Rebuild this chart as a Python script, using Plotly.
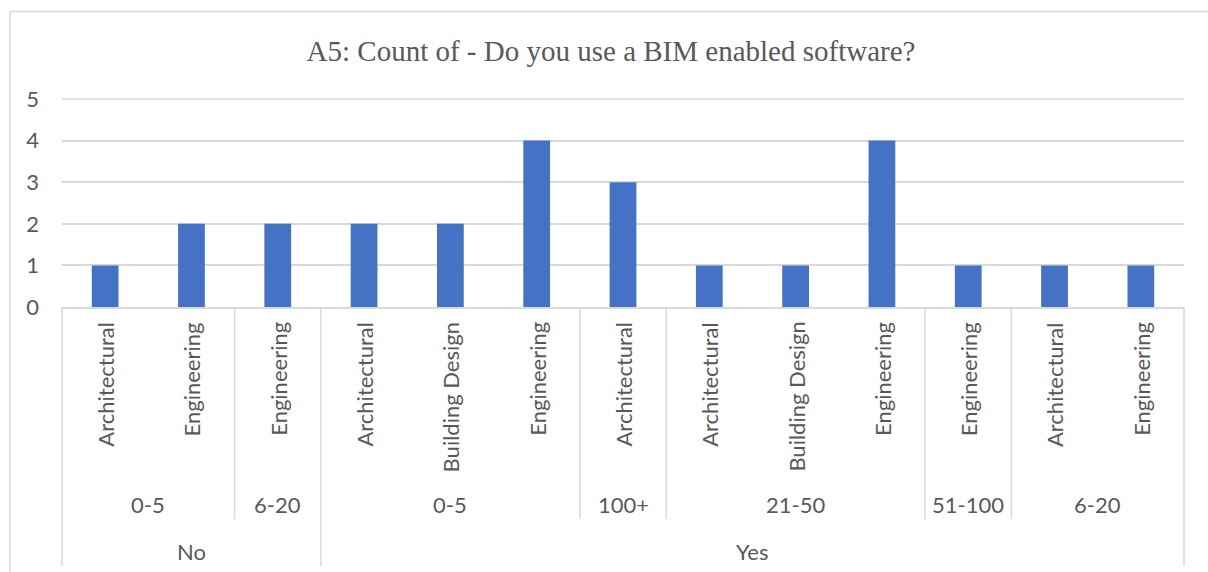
import plotly.graph_objects as go

# ---- data ----
answer = ["No", "No", "No", "Yes", "Yes", "Yes", "Yes", "Yes", "Yes", "Yes", "Yes", "Yes", "Yes"]
company_size = ["0-5", "0-5", "6-20", "0-5", "0-5", "0-5", "100+", "21-50", "21-50", "21-50", "51-100", "6-20", "6-20"]
discipline = ["Architectural", "Engineering", "Engineering", "Architectural", "Building Design", "Engineering",
              "Architectural", "Architectural", "Building Design", "Engineering", "Engineering",
              "Architectural", "Engineering"]
counts = [1, 2, 2, 2, 2, 4, 3, 1, 1, 4, 1, 1, 1]
y_ticks = [0, 1, 2, 3, 4, 5]

W, H = 1208, 572
L, R, T, B = 62, 24, 99, 265   # plot area: x 62..1184, y 99..307
PW, PH = W - L - R, H - T - B
TXT = "#595959"
GRID = "#d9d9d9"
FONT = "Lato"
FS = 22

n = len(counts)
xs = list(range(n))

fig = go.Figure(go.Bar(x=xs, y=counts, marker=dict(color="#4472C4", line=dict(width=0)),
                       width=0.31, hoverinfo="y"))

def py(pix):  # pixel y -> paper y
    return (H - B - pix) / PH

def pxp(pix):
    return (pix - L) / PW

def bnd(b):   # data boundary -> paper x
    return (b + 0.5) / n

annotations = []
shapes = []

# level 1 labels (rotated)
for i, lab in enumerate(discipline):
    annotations.append(dict(x=i, xref="x", y=py(320), yref="paper", text=lab, textangle=-90,
                            showarrow=False, yanchor="top", xanchor="center",
                            font=dict(family=FONT, size=FS, color=TXT)))

def groups(keys):
    out = []
    start = 0
    for i in range(1, n + 1):
        if i == n or keys[i] != keys[start]:
            out.append((start, i - 1, keys[start]))
            start = i
    return out

lvl2 = groups([a + "|" + c for a, c in zip(answer, company_size)])
lvl3 = groups(answer)

for s, e, k in lvl2:
    annotations.append(dict(x=(s + e) / 2, xref="x", y=py(504), yref="paper", text=k.split("|")[1],
                            showarrow=False, yanchor="middle", xanchor="center",
                            font=dict(family=FONT, size=FS, color=TXT)))
for s, e, k in lvl3:
    annotations.append(dict(x=(s + e) / 2, xref="x", y=py(551), yref="paper", text=k,
                            showarrow=False, yanchor="middle", xanchor="center",
                            font=dict(family=FONT, size=FS, color=TXT)))

outer = set()
for s, e, k in lvl3:
    outer.add(s - 0.5)
    outer.add(e + 0.5)
inner = set()
for s, e, k in lvl2:
    inner.add(s - 0.5)
    inner.add(e + 0.5)
inner -= outer

for b in outer:
    shapes.append(dict(type="line", xref="paper", yref="paper", x0=bnd(b), x1=bnd(b),
                       y0=py(307), y1=py(566), line=dict(color=GRID, width=1.5)))
for b in inner:
    shapes.append(dict(type="line", xref="paper", yref="paper", x0=bnd(b), x1=bnd(b),
                       y0=py(307), y1=py(519), line=dict(color=GRID, width=1.5)))

# top gridline (at range edge)
shapes.append(dict(type="line", xref="paper", yref="paper", x0=0, x1=1, y0=1, y1=1,
                   line=dict(color=GRID, width=1.5), layer="below"))

# chart border
shapes.append(dict(type="rect", xref="paper", yref="paper", x0=pxp(10), x1=pxp(1230),
                   y0=py(11.5), y1=py(600), line=dict(color=GRID, width=1.5), fillcolor="rgba(0,0,0,0)",
                   layer="below"))

fig.update_layout(
    width=W, height=H,
    margin=dict(l=L, r=R, t=T, b=B, pad=0),
    paper_bgcolor="white", plot_bgcolor="white",
    showlegend=False,
    title=dict(text="A5: Count of - Do you use a BIM enabled software?",
               x=611 / W, xref="container", xanchor="center",
               y=1 - 51 / H, yref="container", yanchor="middle",
               font=dict(family="Liberation Serif", size=29, color=TXT)),
    xaxis=dict(range=[-0.5, n - 0.5], showticklabels=False, showgrid=False, zeroline=False,
               showline=True, linecolor=GRID, linewidth=1.5, ticks="", fixedrange=True),
    yaxis=dict(range=[0, 5], tickvals=y_ticks, showgrid=True, gridcolor=GRID, gridwidth=1.5,
               zeroline=False, showline=False, ticks="", ticklabelstandoff=22,
               tickfont=dict(family=FONT, size=FS, color=TXT)),
    annotations=annotations, shapes=shapes, bargap=0.69,
)

fig.write_html("out.html")
